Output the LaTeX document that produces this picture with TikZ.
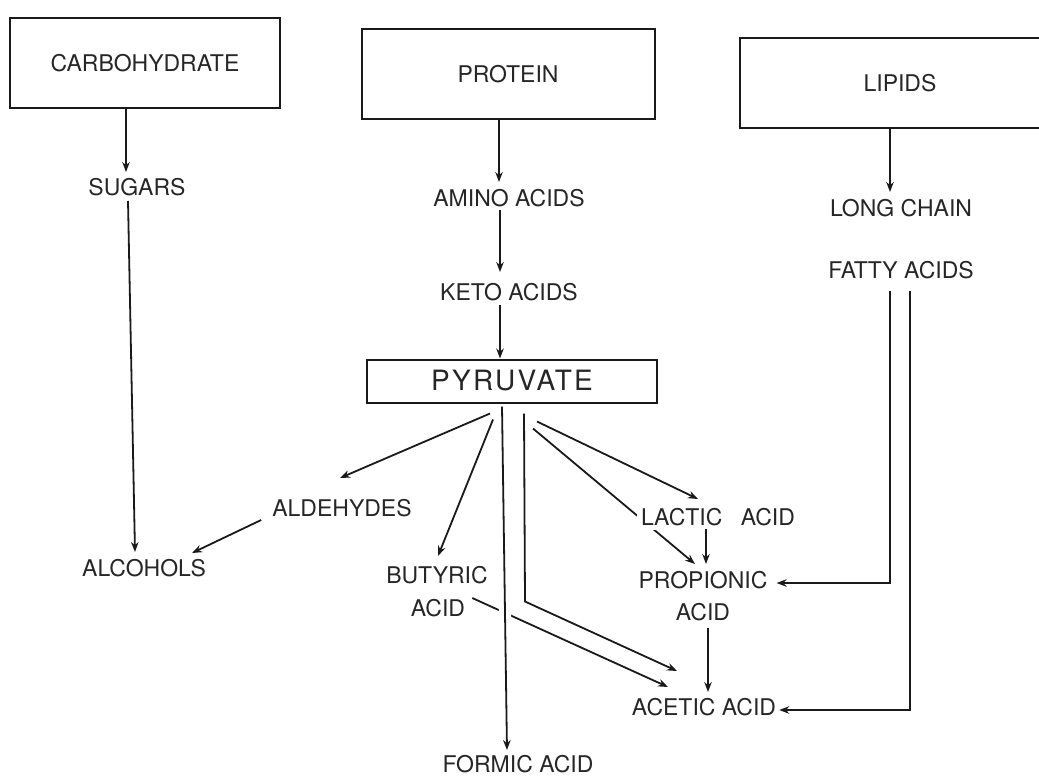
\documentclass[tikz,border=0pt]{standalone}
\usepackage{fontspec}
\setmainfont{TeX Gyre Heros}
\usetikzlibrary{arrows.meta,backgrounds}
\definecolor{ink}{HTML}{1A1A1A}
\definecolor{txtc}{HTML}{262626}
\tikzset{
  ar/.style={-{Stealth[length=10pt,width=7.5pt]},line width=1.8pt,ink},
  box/.style={draw=ink,line width=2pt,inner sep=0pt},
  lbl/.style={text=txtc,inner sep=0pt,font=\fontsize{23}{26}\selectfont},
  gapline/.style={preaction={draw=white,line width=12pt,-,shorten <=2pt}}
}

\begin{document}
\begin{tikzpicture}[x=1pt,y=-1pt]
\useasboundingbox (0,0) rectangle (1039,777);
% sources
\node[box,lbl,minimum width=270pt,minimum height=90pt] (carb) at (145,63) {CARBOHYDRATE};
\node[box,lbl,minimum width=293pt,minimum height=90pt] (prot) at (508,74) {PROTEIN};
\node[box,lbl,minimum width=320pt,minimum height=90pt] (lip) at (900,83) {LIPIDS};
\node[box,lbl,font=\fontsize{28}{30}\selectfont\addfontfeature{LetterSpace=8},
  minimum width=290pt,minimum height=43pt] (pyr) at (512,381) {PYRUVATE};
% products
\node[lbl] (sug) at (137,187) {SUGARS};
\node[lbl] (amino) at (509,198) {AMINO ACIDS};
\node[lbl] (keto) at (509,292) {KETO ACIDS};
\node[lbl] (longch) at (901,208) {LONG CHAIN};
\node[lbl] (fatty) at (901,270) {FATTY ACIDS};
\node[lbl] (alde) at (342,508) {ALDEHYDES};
\node[lbl] (alco) at (144,568) {ALCOHOLS};
\node[lbl] (buty) at (437,575) {BUTYRIC};
\node[lbl] (butyacid) at (438,608) {ACID};
\node[lbl,fill=white,inner sep=4pt] (lact) at (718,517) {LACTIC\hspace{0.8em}ACID};
\node[lbl] (prop) at (703,580) {PROPIONIC};
\node[lbl] (propacid) at (703,612) {ACID};
\node[lbl] (acet) at (704,707) {ACETIC ACID};
\node[lbl] (form) at (518,764) {FORMIC ACID};
% pathways
\draw[ar] ([xshift=-19pt]carb.south) -- ([xshift=-11pt,yshift=6pt]sug.north);
\draw[ar] ([xshift=-9pt,yshift=-5pt]sug.south) -- ([xshift=-9pt,yshift=7pt]alco.north);
\draw[ar] ([xshift=-9pt]prot.south) -- ([xshift=-10pt,yshift=7pt]amino.north);
\draw[ar] ([xshift=-9pt,yshift=-3pt]amino.south) -- ([xshift=-9pt,yshift=11pt]keto.north);
\draw[ar] ([xshift=-9pt,yshift=-4pt]keto.south) -- ([xshift=-12pt]pyr.north);
\draw[ar] ([xshift=-10pt]lip.south) -- ([xshift=-11pt,yshift=7pt]longch.north);
\draw[ar] ([xshift=-22pt,yshift=-10pt]pyr.south) -- ([xshift=-2pt,yshift=21pt]alde.north);
\draw[ar] ([xshift=-11pt,yshift=-12pt]alde.west) -- ([xshift=-14pt,yshift=15pt]alco.east);
\draw[ar] ([xshift=-19pt,yshift=-16pt]pyr.south) -- ([xshift=1pt,yshift=10pt]buty.north);
\draw[ar] ([xshift=7pt,yshift=10pt]butyacid.east) -- ([xshift=-36pt,yshift=11pt]acet.north);
\draw[ar,gapline] ([xshift=-10pt,yshift=-3pt]pyr.south) -- ([xshift=-11pt,yshift=5pt]form.north);
\draw[ar] ([xshift=12pt,yshift=-10pt]pyr.south) -- ++(1,188) -- ([xshift=-27pt,yshift=27pt]acet.north);
\draw[ar] ([xshift=25pt,yshift=-18pt]pyr.south) -- ([xshift=-20pt,yshift=5pt]lact.north);
\begin{scope}[on background layer]
\draw[ar] ([xshift=21pt,yshift=-25pt]pyr.south) -- ([xshift=-8pt,yshift=7pt]prop.north);
\end{scope}
\draw[ar] ([xshift=-12pt,yshift=1pt]lact.south) -- ([xshift=3pt,yshift=7pt]prop.north);
\draw[ar] ([xshift=5pt,yshift=-7pt]propacid.south) -- ([xshift=4pt,yshift=6pt]acet.north);
\draw[ar] ([xshift=-11pt,yshift=-12pt]fatty.south) |- ([xshift=9pt,yshift=-3pt]prop.east);
\draw[ar] ([xshift=9pt,yshift=-12pt]fatty.south) |- ([xshift=3pt,yshift=-3pt]acet.east);
\end{tikzpicture}
\end{document}
